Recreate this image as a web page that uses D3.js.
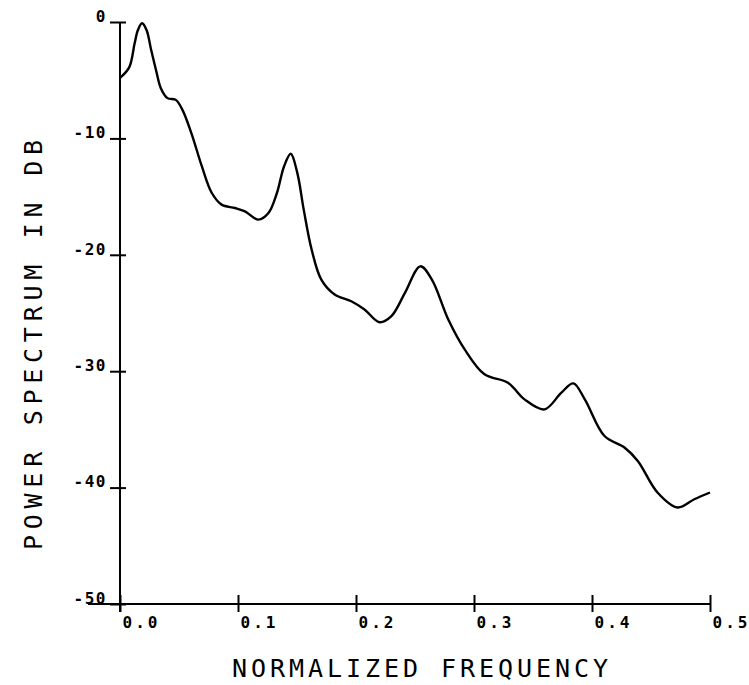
<!DOCTYPE html>
<html>
<head>
<meta charset="utf-8">
<script src="https://cdn.jsdelivr.net/npm/d3@7"></script>
<style>
  body { margin: 0; background: #fff; }
  svg { display: block; }
</style>
</head>
<body>
<div class="chart"></div>
<script>
// spectrum (normalized freq, dB)
var freq = [0, 0.0078, 0.0124, 0.0152, 0.0187, 0.0225, 0.0264, 0.0305, 0.0346, 0.0402,
    0.0473, 0.0529, 0.0604, 0.0694, 0.0777, 0.0861, 0.0974, 0.1059, 0.1173, 0.1258,
    0.1330, 0.1390, 0.1447, 0.1503, 0.1557, 0.1624, 0.1706, 0.1819, 0.1960, 0.2072,
    0.2199, 0.2300, 0.2415, 0.2545, 0.2643, 0.2782, 0.2921, 0.3089, 0.3288, 0.3428,
    0.3597, 0.3741, 0.3842, 0.3939, 0.4106, 0.4275, 0.4388, 0.4555, 0.4725, 0.4867, 0.5];
var powerDb = [-4.8, -3.9, -1.83, -0.69, -0.11, -0.69, -2.40, -4.12, -5.69, -6.54,
    -6.69, -7.55, -9.52, -12.41, -14.67, -15.69, -15.98, -16.27, -16.98, -16.41,
    -14.69, -12.41, -11.32, -12.98, -16.12, -19.55, -22.13, -23.41, -23.99, -24.70,
    -25.79, -25.27, -23.27, -20.99, -22.13, -25.56, -28.13, -30.27, -30.99, -32.42,
    -33.28, -31.84, -31.05, -32.42, -35.57, -36.56, -37.71, -40.42, -41.71, -41.00, -40.42];

var xTicks = [0, 0.1, 0.2, 0.3, 0.4, 0.5];
var xTickLabels = ['0.0', '0.1', '0.2', '0.3', '0.4', '0.5'];
var yTicks = [0, -10, -20, -30, -40, -50];
var yTickLabels = ['0', '-10', '-20', '-30', '-40', '-50'];

var xTitle = 'NORMALIZED FREQUENCY';
var yTitle = 'POWER SPECTRUM IN DB';

var width = 749, height = 685;
// note: can't call it "top", that's window.top
var plotLeft = 120, plotRight = 710, plotTop = 22, plotBottom = 604;
var plotFont = '"DejaVu Sans Mono", monospace';

var svg = d3.select('.chart')
    .append('svg')
    .attr('width', width)
    .attr('height', height);

var x = d3.scaleLinear().domain([0, 0.5]).range([plotLeft, plotRight]);
var y = d3.scaleLinear().domain([-50, 0]).range([plotBottom, plotTop]);

var data = freq.map(function(f, i){ return {f: f, db: powerDb[i]}; });

// x axis: crossing ticks, labels to the right of each tick
var xAxis = d3.axisBottom(x)
    .tickValues(xTicks)
    .tickSize(8)
    .tickFormat(function(d, i){ return xTickLabels[i]; });

var gx = svg.append('g')
    .attr('transform', 'translate(0,' + plotBottom + ')')
    .attr('font-size', 16)
    .call(xAxis);
gx.select('.domain').remove();
gx.selectAll('.tick line')
    .attr('y1', -9)
    .attr('y2', 8)
    .attr('stroke', '#000')
    .attr('stroke-width', 2);
gx.attr('font-size', 16)
    .attr('font-family', plotFont)
    .attr('font-weight', 'bold');
gx.selectAll('.tick text')
    .attr('text-anchor', 'start')
    .attr('x', 2)
    .attr('y', 24)
    .attr('dy', null)
    .attr('fill', '#000')
    .attr('letter-spacing', 3);

svg.append('line')
    .attr('x1', 88).attr('x2', plotRight)
    .attr('y1', plotBottom).attr('y2', plotBottom)
    .attr('stroke', '#000')
    .attr('stroke-width', 2);

// y axis
var yAxis = d3.axisLeft(y)
    .tickValues(yTicks)
    .tickSize(10)
    .tickFormat(function(d, i){ return yTickLabels[i]; });

var gy = svg.append('g')
    .attr('transform', 'translate(' + plotLeft + ',0)')
    .call(yAxis);
gy.select('.domain').remove();
gy.attr('font-size', 16)
    .attr('font-family', plotFont)
    .attr('font-weight', 'bold');
gy.selectAll('.tick line')
    .attr('x1', 6)
    .attr('stroke', '#000')
    .attr('stroke-width', 2);
gy.selectAll('.tick text')
    .attr('x', -13)
    .attr('dy', '-0.05em')
    .attr('fill', '#000')
    .attr('letter-spacing', 1.5);

svg.append('line')
    .attr('x1', plotLeft).attr('x2', plotLeft)
    .attr('y1', plotTop).attr('y2', plotBottom + 8)
    .attr('stroke', '#000')
    .attr('stroke-width', 2);

// spectrum curve
var line = d3.line()
    .x(function(d){ return x(d.f); })
    .y(function(d){ return y(d.db); })
    .curve(d3.curveCatmullRom.alpha(0.5));

svg.append('path')
    .datum(data)
    .attr('d', line)
    .attr('fill', 'none')
    .attr('stroke', '#000')
    .attr('stroke-width', 2.4)
    .attr('stroke-linejoin', 'round');

// axis titles
svg.append('text')
    .attr('x', 232)
    .attr('y', 677)
    .attr('textLength', 376)
    .attr('lengthAdjust', 'spacing')
    .attr('font-family', plotFont)
    .attr('font-size', 25)
    .attr('fill', '#000')
    .text(xTitle);

svg.append('text')
    .attr('transform', 'translate(42,550) rotate(-90)')
    .attr('textLength', 410)
    .attr('lengthAdjust', 'spacing')
    .attr('font-family', plotFont)
    .attr('font-size', 25)
    .attr('fill', '#000')
    .text(yTitle);
</script>
</body>
</html>
